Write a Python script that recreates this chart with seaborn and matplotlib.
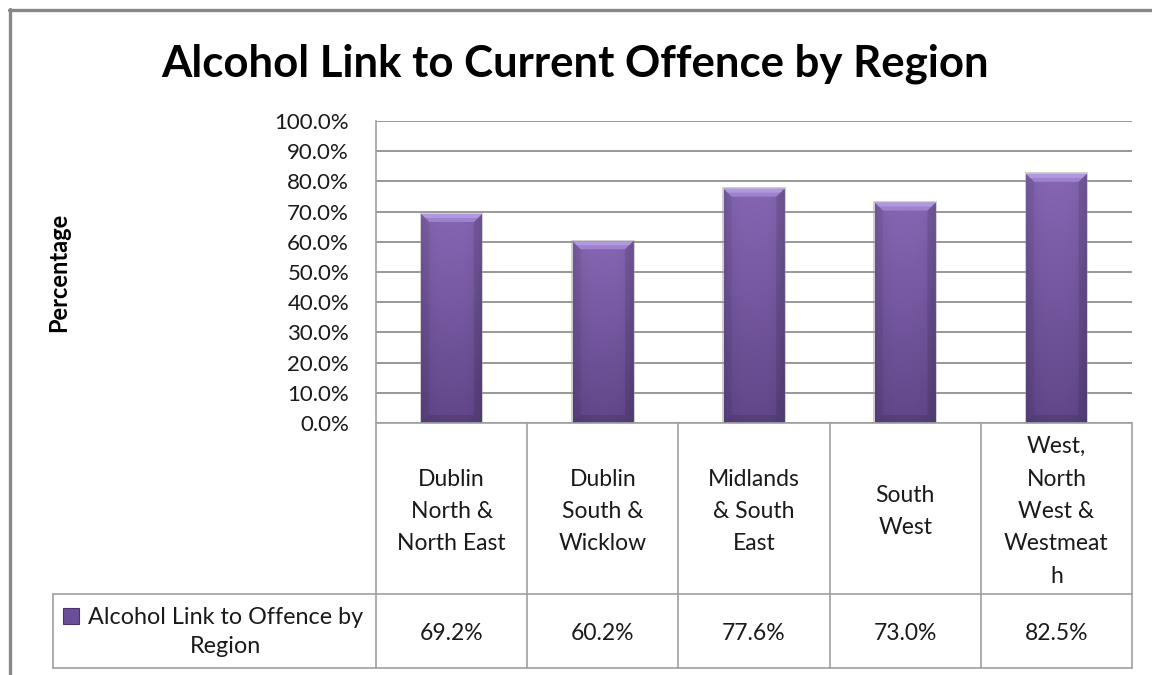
import numpy as np
import pandas as pd
import matplotlib
matplotlib.use("Agg")
import matplotlib.pyplot as plt
from matplotlib.patches import Polygon, Rectangle
from matplotlib.lines import Line2D
import seaborn as sns

# ---- data ----
regions = [
    "Dublin\nNorth &\nNorth East",
    "Dublin\nSouth &\nWicklow",
    "Midlands\n& South\nEast",
    "South\nWest",
    "West,\nNorth\nWest &\nWestmeat\nh",
]
alcohol_pct = [69.2, 60.2, 77.6, 73.0, 82.5]
y_ticks = [0, 10, 20, 30, 40, 50, 60, 70, 80, 90, 100]
series_name = "Alcohol Link to Offence by\nRegion"
chart_title = "Alcohol Link to Current Offence by Region"
y_label = "Percentage"

# ---- style ----
sns.set_style("white")
plt.rcParams["font.family"] = ["Lato", "DejaVu Sans"]
TEXT = "#1a1a1a"
GRID = "#868686"
TABLE = "#a0a0a0"
BAR_TOP = np.array([0x86, 0x66, 0xB3]) / 255
BAR_BOTTOM = np.array([0x61, 0x47, 0x8A]) / 255
FS = 16.5

W, H = 1152, 675
fig = plt.figure(figsize=(W / 100, H / 100), dpi=100)


def fx(px):
    return px / W


def fy(py):
    return 1 - py / H


# plot area
L, R, T, B = 376, 1132, 121, 423
ax = fig.add_axes([fx(L), fy(B), fx(R) - fx(L), fy(T) - fy(B)])

df = pd.DataFrame({"region": regions, "pct": alcohol_pct})
sns.barplot(data=df, x="region", y="pct", ax=ax, width=0.4,
            color=BAR_BOTTOM, saturation=1, zorder=3)

ax.set_xlim(-0.5, len(regions) - 0.5)
ax.set_ylim(0, 100)
ax.set_yticks(y_ticks)
ax.set_yticklabels([f"{t:.1f}%" for t in y_ticks])
ax.tick_params(axis="y", length=0, pad=19.4, labelsize=16, labelcolor=TEXT)
ax.set_xticks([])
ax.set_xlabel("")
ax.set_ylabel("")
ax.yaxis.grid(True, color=GRID, lw=1.2)
ax.set_axisbelow(True)
for side in ["top", "right", "bottom"]:
    ax.spines[side].set_visible(False)
ax.spines["left"].set_color(TABLE)
ax.spines["left"].set_linewidth(1.2)

# bevelled, gradient-filled bars
px_x = 1.0 / ((R - L) / len(regions))   # data units per pixel, x
px_y = 100.0 / (B - T)                  # data units per pixel, y
bev_x, bev_y = 8 * px_x, 8 * px_y
cols = np.linspace(-1, 1, 60)
edge_shade = 1 - 0.10 * np.abs(cols) ** 3
for p in list(ax.patches):
    x0, y0 = p.get_x(), p.get_y()
    w, h = p.get_width(), p.get_height()
    x1, y1 = x0 + w, y0 + h
    # soft shadow
    ax.add_patch(Rectangle((x0 - 1.5 * px_x, y0), w + 3 * px_x, h + 1.5 * px_y,
                           facecolor="#9a9a9a", alpha=0.45, lw=0, zorder=2.9))
    rows = np.linspace(0, 1, 200)[:, None, None]
    grad = BAR_TOP * (1 - rows) + BAR_BOTTOM * rows
    grad = grad * edge_shade[None, :, None]
    img = ax.imshow(np.clip(grad, 0, 1), extent=[x0, x1, y0, y1], aspect="auto",
                    origin="upper", zorder=3.1, interpolation="bilinear")
    img.set_clip_path(p)
    # top bevel
    ax.add_patch(Polygon([(x0, y1), (x1, y1), (x1 - bev_x, y1 - bev_y), (x0 + bev_x, y1 - bev_y)],
                         closed=True, facecolor="#9e82cf", lw=0, zorder=3.3))
    ax.add_patch(Polygon([(x0, y1), (x1, y1), (x1 - 4 * px_x, y1 - 4 * px_y),
                          (x0 + 4 * px_x, y1 - 4 * px_y)],
                         closed=True, facecolor="#b198de", lw=0, zorder=3.35))
    # side bevels
    ax.add_patch(Polygon([(x0, y1), (x0 + bev_x, y1 - bev_y), (x0 + bev_x, y0 + bev_y), (x0, y0)],
                         closed=True, facecolor="black", alpha=0.05, lw=0, zorder=3.2))
    ax.add_patch(Polygon([(x1, y1), (x1 - bev_x, y1 - bev_y), (x1 - bev_x, y0 + bev_y), (x1, y0)],
                         closed=True, facecolor="black", alpha=0.10, lw=0, zorder=3.2))
    # bottom bevel
    ax.add_patch(Polygon([(x0, y0), (x1, y0), (x1 - bev_x, y0 + bev_y), (x0 + bev_x, y0 + bev_y)],
                         closed=True, facecolor="black", alpha=0.10, lw=0, zorder=3.2))
    p.set_visible(False)

ax.set_xlim(-0.5, len(regions) - 0.5)
ax.set_ylim(0, 100)


# ---- data table below the plot ----
def hline(y, xa, xb, color=TABLE, lw=1.2):
    fig.add_artist(Line2D([fx(xa), fx(xb)], [fy(y), fy(y)], color=color, lw=lw))


def vline(x, ya, yb, color=TABLE, lw=1.2):
    fig.add_artist(Line2D([fx(x), fx(x)], [fy(ya), fy(yb)], color=color, lw=lw))


ROW1, ROW2 = 594, 668
LEG_L = 53
col_w = (R - L) / len(regions)
hline(B, L, R)
hline(ROW1, LEG_L, R)
hline(ROW2, LEG_L, R)
vline(LEG_L, ROW1, ROW2)
for i in range(len(regions) + 1):
    vline(L + i * col_w, B, ROW2)

line_gap = 32.5
for i, (name, val) in enumerate(zip(regions, alcohol_pct)):
    cx = L + (i + 0.5) * col_w
    lines = name.split("\n")
    n = len(lines)
    for j, ln in enumerate(lines):
        base = 518 + (j - (n - 1) / 2) * line_gap
        fig.text(fx(cx), fy(base), ln, ha="center", va="baseline",
                 fontsize=FS, color=TEXT)
    fig.text(fx(cx), fy(640), f"{val:.1f}%", ha="center", va="baseline",
             fontsize=FS, color=TEXT)

# legend key and series name
fig.add_artist(Rectangle((fx(63), fy(624)), fx(79) - fx(63), fy(608) - fy(624),
                         transform=fig.transFigure, facecolor="#6a4e98",
                         edgecolor="#4a3470", lw=0.8))
for j, ln in enumerate(series_name.split("\n")):
    fig.text(fx(226), fy(624 + 29 * j), ln, ha="center", va="baseline",
             fontsize=16.8, color=TEXT)

# ---- title, axis label, outer frame ----
fig.text(fx(575), fy(77), chart_title, ha="center", va="baseline",
         fontsize=31.5, fontweight="bold", color="black")
fig.text(fx(59), fy(272), y_label, ha="center", va="center", rotation=90,
         fontsize=17, fontweight="bold", color="black")

fig.add_artist(Line2D([fx(9), fx(W)], [fy(9.5), fy(9.5)], color="#888888", lw=2.4))
fig.add_artist(Line2D([fx(9.5), fx(9.5)], [fy(9), fy(H)], color="#888888", lw=2.4))

fig.savefig("out.png", dpi=100, facecolor="white")
